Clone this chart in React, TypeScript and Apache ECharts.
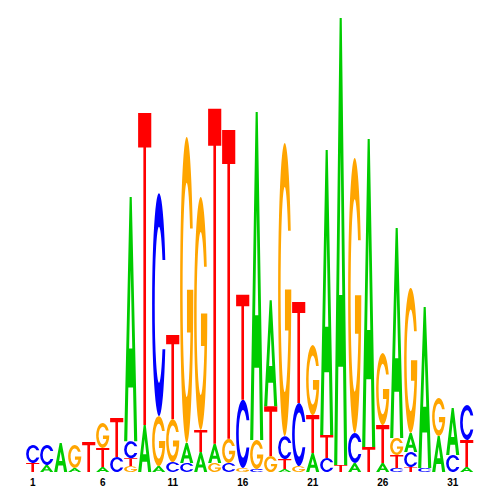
import React, { useEffect, useRef } from "react";
import * as echarts from "echarts";

// Sequence logo: information (bits) of each base at each position
const positions = ["1","2","3","4","5","6","7","8","9","10","11","12","13","14","15","16","17","18","19","20","21","22","23","24","25","26","27","28","29","30","31","32"];
const bitsA = [0,0.031,0.128,0.018,0,0.022,0,1.075,0.207,0.026,0,0.088,0.088,0.084,0,0,1.445,0.467,0.013,0,0.084,1.256,1.969,0.040,1.357,0.040,0.925,0.084,0.709,0.159,0.207,0.022];
const bitsC = [0.079,0.088,0,0,0,0,0.066,0.075,0,0.982,0.044,0.040,0,0,0.040,0.300,0.013,0,0.101,0.278,0,0.062,0,0.132,0,0,0.018,0.066,0.018,0,0.075,0.154];
const bitsG = [0,0,0,0.101,0,0.110,0,0.026,0,0.220,0.189,1.348,1.026,0.040,0.106,0.018,0.128,0.070,1.291,0.026,0.308,0,0,1.211,0,0.317,0.075,0.639,0,0.167,0,0];
const bitsT = [0.040,0,0,0,0.132,0.084,0.172,0.035,1.374,0,0.370,0,0.097,1.476,1.361,0.463,0,0.220,0.044,0.445,0.167,0.101,0.031,0,0.110,0.167,0.057,0.022,0,0,0,0.119];

const BASES = ["A", "C", "G", "T"];
const BITS: Record<string, number[]> = { A: bitsA, C: bitsC, G: bitsG, T: bitsT };
const COLORS: Record<string, string> = { A: "#00CC00", C: "#0000FF", G: "#FFA500", T: "#FF0000" };

const GLYPHS: Record<string, string> = {
  A: "M0,100 L42,0 L58,0 L100,100 L76,100 L68,78 L32,78 L24,100 Z M38,62 L62,62 L50,30 Z",
  C: "M95.8,30 A50,50 0 1 0 95.8,70 L75.4,70 A31,35 0 1 1 75.4,30 Z",
  G: "M95.8,30 A50,50 0 1 0 100,50 L52,50 L52,64 L78.4,64 A31,35 0 1 1 75.4,30 Z",
  T: "M0,0 L100,0 L100,11 L60,11 L60,100 L40,100 L40,11 L0,11 Z",
};

export default function App() {
  const ref = useRef<HTMLDivElement>(null);
  useEffect(() => {
    document.body.style.margin = "0";
    if (!ref.current) return;
    const chart = echarts.init(ref.current, null, { renderer: "svg" });
    const data = positions.map((_, i) => [i, BASES.reduce((s, b) => s + BITS[b][i], 0)]);
    chart.setOption({
      animation: false,
      backgroundColor: "#ffffff",
      grid: { left: 25.7, right: 26.3, top: 18, bottom: 28 },
      xAxis: {
        type: "category",
        data: positions,
        axisLine: { show: false },
        axisTick: { show: false },
        axisLabel: {
          interval: (idx: number) => idx % 5 === 0,
          fontWeight: "bold",
          fontSize: 10,
          color: "#000",
          fontFamily: "Liberation Sans",
          margin: 5,
        },
      },
      yAxis: { type: "value", min: 0, max: 2, show: false },
      series: [
        {
          type: "custom",
          data,
          encode: { x: 0, y: 1 },
          renderItem: (params: any, api: any) => {
            const i = params.dataIndex;
            const stack = BASES.map((b) => ({ b, h: BITS[b][i] }))
              .filter((s) => s.h > 0)
              .sort((p, q) => p.h - q.h);
            const band = api.size([1, 0])[0];
            const w = band * 0.94;
            const cx = api.coord([i, 0])[0];
            let base = 0;
            const children: any[] = [];
            for (const s of stack) {
              const yBot = api.coord([i, base])[1];
              const yTop = api.coord([i, base + s.h])[1];
              children.push({
                type: "path",
                shape: {
                  pathData: GLYPHS[s.b],
                  x: cx - w / 2,
                  y: yTop,
                  width: w,
                  height: Math.max(yBot - yTop, 0.5),
                  layout: "cover",
                },
                style: { fill: COLORS[s.b] },
              });
              base += s.h;
            }
            return { type: "group", children };
          },
        },
      ],
    });
    return () => chart.dispose();
  }, []);
  return <div ref={ref} style={{ width: 500, height: 500 }} />;
}
